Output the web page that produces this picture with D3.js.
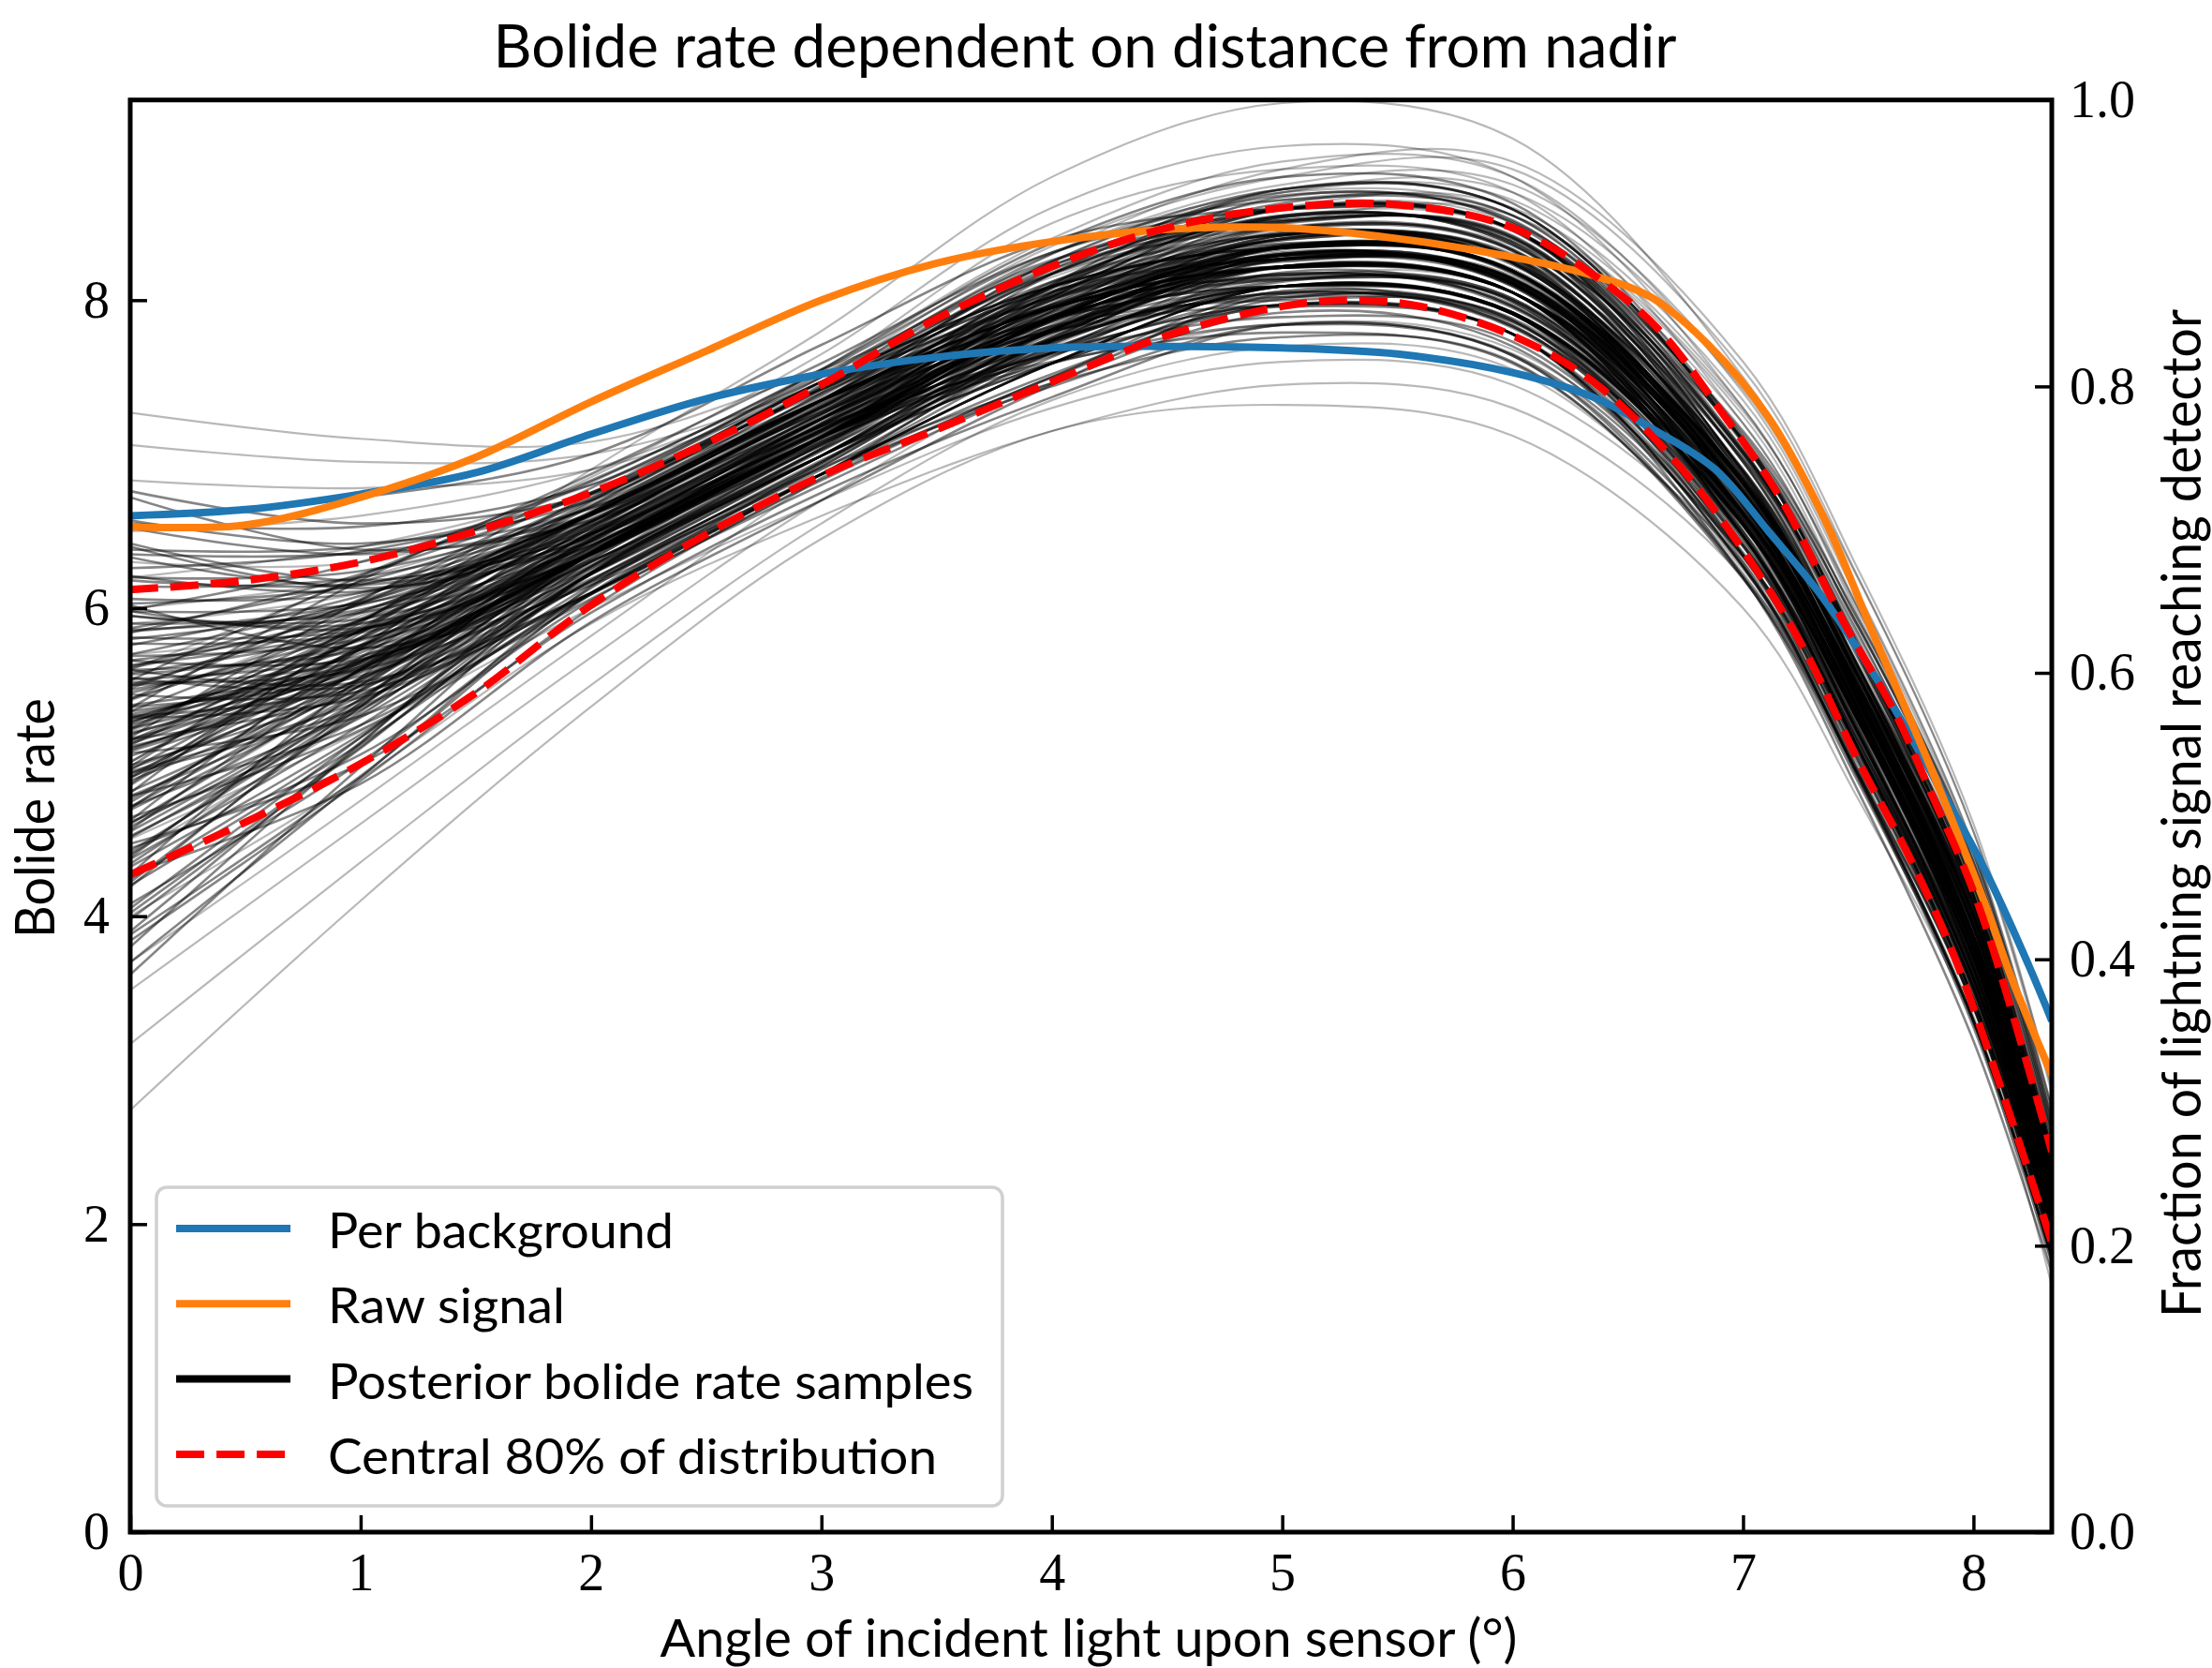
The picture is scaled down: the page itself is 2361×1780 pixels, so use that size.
<!DOCTYPE html>
<html>
<head>
<meta charset="utf-8">
<script src="https://cdn.jsdelivr.net/npm/d3@7"></script>
<style>
  body { margin: 0; background: #fff; }
  svg { display: block; }
</style>
</head>
<body>
<script>
// angles (deg) at which each posterior sample is given
const knotX = [0, 1, 2, 3, 4, 5, 6, 7, 7.5, 8, 8.34];

// posterior bolide rate samples, one row per sample (values at knotX)
const samples = [
  [5.12,5.66,6.45,7.15,7.9,8.3,8.1,6.7,5.39,3.82,2.15],
  [5.63,5.86,6.39,7.2,7.79,8.17,7.95,6.63,5.33,3.77,2.19],
  [4.9,5.74,6.52,7.31,7.97,8.25,8.14,6.58,5.26,3.68,2.04],
  [5.85,6.04,6.58,7.26,8.05,8.39,8.29,6.72,5.41,3.84,2.2],
  [4.55,5.38,6.27,7.08,7.78,8.31,8.09,6.78,5.47,3.91,2.3],
  [5.3,5.49,6.19,6.9,7.68,8.12,8.01,6.45,5.13,3.56,1.97],
  [6.21,6.11,6.46,7.14,7.98,8.43,8.23,6.9,5.61,4.04,2.37],
  [4.2,5.12,6.13,6.96,7.63,8.18,7.96,6.64,5.34,3.78,2.14],
  [5.48,6.03,6.71,7.38,8.2,8.5,8.42,6.85,5.55,3.97,2.26],
  [4.76,5.55,6.4,7.2,8.0,8.55,8.36,6.97,5.67,4.09,2.41],
  [6.57,6.42,6.7,7.44,8.06,8.26,8.15,6.59,5.27,3.69,2.08],
  [3.84,4.88,6.0,6.84,7.5,8.06,7.83,6.5,5.19,3.63,2.03],
  [5.26,5.8,6.57,7.27,7.83,8.0,7.88,6.43,5.09,3.51,1.93],
  [5.98,5.87,6.31,7.02,7.84,8.26,8.14,6.73,5.48,3.96,2.25],
  [4.4,5.41,6.44,7.19,7.93,8.44,8.24,6.77,5.43,3.83,2.18],
  [5.5,5.66,6.26,7.07,7.69,8.05,7.82,6.46,5.18,3.64,2.09],
  [5.16,6.05,6.78,7.5,8.26,8.51,8.41,6.8,5.43,3.79,2.14],
  [4.93,5.36,6.18,6.95,7.71,8.3,8.1,6.84,5.58,4.05,2.36],
  [5.87,6.17,6.66,7.43,8.22,8.68,8.5,7.0,5.69,4.1,2.42],
  [4.56,5.61,6.53,7.26,7.97,8.27,8.09,6.57,5.19,3.55,1.98],
  [5.1,5.54,6.3,7.03,7.9,8.4,8.28,6.79,5.49,3.92,2.27],
  [5.61,5.98,6.56,7.31,7.92,8.29,8.1,6.5,5.08,3.42,1.86],
  [4.78,5.43,6.32,7.06,7.72,8.13,8.0,6.62,5.35,3.81,2.16],
  [6.35,6.36,6.65,7.39,8.12,8.42,8.24,6.76,5.4,3.77,2.19],
  [4.05,5.16,6.27,7.08,7.64,8.02,7.87,6.4,5.09,3.54,1.94],
  [5.24,5.73,6.44,7.16,8.08,8.63,8.55,7.07,5.78,4.19,2.48],
  [5.52,5.6,6.17,6.92,7.76,8.29,8.13,6.69,5.37,3.79,2.16],
  [4.44,5.05,6.05,6.8,7.46,7.92,7.7,6.33,5.04,3.5,1.96],
  [5.22,5.92,6.67,7.42,8.01,8.27,8.11,6.6,5.27,3.67,2.07],
  [5.95,5.93,6.41,7.18,7.82,8.14,7.99,6.47,5.12,3.52,1.96],
  [4.95,5.75,6.52,7.31,8.08,8.55,8.37,6.86,5.55,3.96,2.26],
  [5.47,5.79,6.38,7.19,7.86,8.3,8.14,6.84,5.58,4.05,2.4],
  [3.7,4.9,6.14,6.95,7.76,8.26,8.14,6.7,5.4,3.83,2.19],
  [6.72,6.38,6.57,7.27,8.12,8.51,8.41,7.0,5.73,4.18,2.52],
  [5.33,5.62,6.27,7.03,7.68,8.05,7.83,6.53,5.29,3.78,2.15],
  [4.71,5.53,6.45,7.15,7.97,8.39,8.28,6.97,5.74,4.23,2.47],
  [5.99,6.3,6.83,7.55,8.37,8.8,8.63,7.11,5.74,4.09,2.37],
  [4.37,5.24,6.18,6.91,7.46,7.76,7.6,6.19,4.92,3.42,1.82],
  [5.66,5.92,6.53,7.32,8.0,8.43,8.24,6.77,5.43,3.82,2.2],
  [5.28,5.76,6.4,7.14,7.83,8.17,7.96,6.57,5.24,3.64,2.04],
  [4.22,5.36,6.47,7.19,7.86,8.3,8.11,6.63,5.29,3.68,2.08],
  [6.18,6.16,6.51,7.26,7.9,8.13,8.0,6.59,5.32,3.78,2.15],
  [5.06,5.3,6.06,6.83,7.5,8.01,7.87,6.3,4.9,3.28,1.75],
  [4.8,5.86,6.66,7.43,8.08,8.43,8.28,6.73,5.4,3.81,2.18],
  [5.6,5.73,6.3,7.07,7.93,8.54,8.36,6.9,5.56,3.93,2.3],
  [4.6,5.5,6.39,7.16,7.79,8.16,8.01,6.66,5.42,3.92,2.26],
  [5.8,6.02,6.54,7.3,7.96,8.29,8.12,6.7,5.39,3.81,2.18],
  [5.18,5.68,6.37,7.12,7.92,8.42,8.27,6.66,5.29,3.65,2.05],
  [4.98,5.47,6.25,7.04,8.05,8.67,8.51,7.13,5.88,4.32,2.6],
  [5.41,6.06,6.72,7.4,7.96,8.14,7.99,6.49,5.14,3.54,1.96],
  [4.52,5.31,6.33,7.09,7.89,8.4,8.27,6.69,5.31,3.67,2.07],
  [6.02,5.74,6.15,6.94,7.73,8.27,8.13,6.81,5.58,4.06,2.38],
  [5.14,5.81,6.56,7.28,7.94,8.27,8.12,6.74,5.47,3.93,2.27],
  [3.9,5.13,6.31,7.06,7.87,8.4,8.25,6.87,5.61,4.06,2.38],
  [6.55,6.53,6.8,7.52,8.23,8.52,8.4,6.89,5.56,3.95,2.29],
  [5.37,5.64,6.3,7.06,7.8,8.29,8.13,6.56,5.17,3.52,1.94],
  [4.9,5.6,6.43,7.18,7.65,7.89,7.73,6.35,5.07,3.54,1.96],
  [5.53,6.21,6.82,7.54,8.31,8.65,8.52,7.03,5.7,4.08,2.4],
  [4.28,4.86,5.91,6.7,7.45,8.04,7.86,6.47,5.19,3.65,2.05],
  [6.4,6.13,6.43,7.16,7.87,8.27,8.11,6.62,5.28,3.67,2.07],
  [5.25,5.85,6.54,7.3,8.11,8.54,8.38,6.83,5.44,3.79,2.16],
  [4.62,5.74,6.69,7.42,8.02,8.29,8.11,6.69,5.38,3.81,2.18],
  [5.58,5.85,6.41,7.16,7.75,8.04,7.84,6.36,5.01,3.41,1.85],
  [5.15,5.44,6.17,6.94,7.82,8.42,8.25,6.83,5.53,3.95,2.29],
  [4.7,5.68,6.56,7.28,7.89,8.16,7.97,6.62,5.34,3.79,2.16],
  [5.9,5.97,6.41,7.18,8.04,8.54,8.38,7.1,5.88,4.35,2.62],
  [4.32,5.18,6.15,6.92,7.75,8.29,8.11,6.76,5.48,3.93,2.27],
  [5.29,5.71,6.43,7.18,7.6,7.79,7.59,6.22,4.93,3.41,1.85],
  [5.54,5.69,6.28,7.04,7.89,8.42,8.25,6.89,5.63,4.08,2.4],
  [4.86,5.84,6.7,7.42,8.18,8.52,8.4,7.01,5.75,4.2,2.49],
  [6.06,6.1,6.56,7.3,7.8,8.02,7.86,6.54,5.3,3.79,2.18],
  [5.08,5.65,6.44,7.15,7.87,8.27,8.13,6.74,5.47,3.93,2.27],
  [5.45,5.85,6.48,7.23,7.95,8.34,8.19,6.75,5.44,3.87,2.23],
  [4.58,5.41,6.36,7.11,7.88,8.35,8.19,6.68,5.34,3.73,2.12],
  [5.81,5.86,6.35,7.12,7.89,8.33,8.2,6.82,5.56,4.01,2.34],
  [4.24,5.16,6.23,6.99,7.66,8.09,7.91,6.54,5.27,3.73,2.12],
  [6.03,6.15,6.6,7.36,8.02,8.34,8.19,6.68,5.34,3.74,2.13],
  [5.11,5.86,6.63,7.34,8.03,8.36,8.18,6.81,5.55,4.0,2.34],
  [4.38,5.47,6.48,7.23,7.88,8.21,8.05,6.55,5.21,3.6,2.01],
  [6.2,6.24,6.65,7.33,8.05,8.37,8.17,6.66,5.32,3.71,2.1],
  [4.94,5.4,6.22,6.99,7.66,8.09,7.92,6.55,5.27,3.73,2.12],
  [5.31,5.66,6.36,7.11,7.66,7.97,7.78,6.34,5.02,3.46,1.9],
  [4.02,5.1,6.22,6.99,7.8,8.34,8.19,6.82,5.56,4.01,2.34],
  [6.38,6.4,6.75,7.47,8.17,8.47,8.32,6.81,5.47,3.87,2.23],
  [5.27,5.65,6.34,7.12,8.02,8.59,8.46,7.02,5.72,4.14,2.45],
  [4.19,5.39,6.5,7.24,7.88,8.22,8.05,6.54,5.19,3.59,2.01],
  [5.98,6.03,6.47,7.22,7.88,8.21,8.05,6.68,5.41,3.87,2.23],
  [4.74,5.6,6.49,7.23,8.03,8.47,8.32,6.81,5.47,3.87,2.23],
  [5.44,5.46,6.09,6.87,7.59,8.09,7.92,6.61,5.37,3.87,2.23],
  [5.33,5.93,6.62,7.35,7.95,8.22,8.05,6.47,5.09,3.46,1.9],
  [4.71,5.34,6.22,6.99,7.59,7.96,7.78,6.41,5.13,3.6,2.01],
  [5.66,5.67,6.23,6.99,7.74,8.22,8.05,6.74,5.5,4.0,2.34],
  [5.5,5.97,6.61,7.35,7.95,8.21,8.05,6.61,5.3,3.73,2.12],
  [4.61,5.29,6.23,6.99,7.74,8.22,8.05,6.81,5.61,4.13,2.45],
  [5.7,6.05,6.61,7.35,8.09,8.47,8.33,6.82,5.48,3.87,2.23],
  [3.88,4.91,6.1,6.87,7.59,8.09,7.91,6.54,5.27,3.73,2.12],
  [6.52,6.35,6.61,7.35,8.17,8.59,8.46,7.02,5.72,4.14,2.45],
  [5.07,5.59,6.36,7.11,7.59,7.84,7.64,6.2,4.87,3.32,1.79],
  [4.97,5.91,6.74,7.47,8.09,8.34,8.19,6.75,5.44,3.87,2.23],
  [5.84,6.22,6.75,7.47,8.25,8.6,8.45,6.95,5.62,4.0,2.34],
  [5.36,5.56,6.22,6.99,7.8,8.34,8.19,6.82,5.56,4.01,2.34],
  [4.34,5.33,6.36,7.11,7.88,8.35,8.19,6.81,5.55,4.0,2.34],
  [5.77,5.84,6.35,7.11,7.73,8.09,7.92,6.55,5.27,3.73,2.12],
  [4.69,5.46,6.36,7.11,7.81,8.22,8.05,6.47,5.09,3.46,1.9],
  [6.76,6.55,6.74,7.47,8.09,8.34,8.19,6.75,5.44,3.87,2.23],
  [3.62,4.97,6.23,6.99,7.59,7.97,7.78,6.27,4.91,3.32,1.79],
  [5.41,5.92,6.61,7.35,8.17,8.59,8.46,6.88,5.51,3.87,2.23],
  [5.22,5.63,6.36,7.11,7.74,8.09,7.91,6.34,4.94,3.32,1.79],
  [4.64,5.21,6.09,6.87,7.44,7.84,7.65,6.34,5.09,3.6,2.01],
  [5.62,6.03,6.62,7.35,8.25,8.72,8.59,7.08,5.75,4.13,2.45],
  [5.04,5.58,6.35,7.11,7.8,8.21,8.05,6.68,5.41,3.87,2.23],
  [4.88,5.52,6.37,7.1,7.89,8.36,8.18,6.74,5.43,3.86,2.22],
  [6.42,6.18,6.48,7.23,7.95,8.34,8.19,6.82,5.56,4.01,2.34],
  [3.98,5.09,6.23,6.99,7.81,8.35,8.19,6.68,5.34,3.73,2.12],
  [5.35,6.18,6.87,7.59,8.31,8.59,8.46,7.15,5.93,4.41,2.67],
  [5.55,5.5,6.1,6.87,7.59,8.09,7.91,6.54,5.27,3.73,2.12],
  [5.0,5.81,6.61,7.35,7.88,8.09,7.92,6.55,5.27,3.73,2.12],
  [5.69,5.8,6.36,7.11,7.88,8.35,8.19,6.61,5.23,3.59,2.01],
  [4.51,5.37,6.35,7.11,7.88,8.34,8.19,6.75,5.44,3.87,2.23],
  [5.15,5.62,6.36,7.11,7.74,8.09,7.91,6.61,5.37,3.87,2.23],
  [5.76,6.08,6.61,7.35,7.8,7.96,7.78,6.28,4.92,3.33,1.79],
  [4.78,5.24,6.1,6.87,7.74,8.35,8.19,6.81,5.55,4.0,2.34],
  [6.14,6.2,6.61,7.35,7.95,8.21,8.05,6.75,5.51,4.01,2.34],
  [4.27,5.55,6.62,7.35,7.95,8.22,8.05,6.47,5.09,3.46,1.9],
  [5.19,5.61,6.35,7.11,7.88,8.34,8.19,6.68,5.34,3.73,2.12],
  [6.33,6.15,6.49,7.23,7.81,8.09,7.91,6.41,5.06,3.46,1.9],
  [4.08,5.0,6.09,6.87,7.59,8.09,7.92,6.55,5.27,3.73,2.12],
  [4.92,5.65,6.49,7.23,7.88,8.22,8.05,6.74,5.5,4.0,2.34],
  [5.86,5.99,6.48,7.23,8.17,8.72,8.59,7.09,5.76,4.14,2.45],
  [4.47,4.99,5.97,6.75,7.37,7.84,7.64,6.27,4.99,3.46,1.9],
  [6.6,6.72,7.0,7.71,8.39,8.59,8.46,6.95,5.62,4.01,2.34],
  [3.8,5.12,6.36,7.11,7.81,8.22,8.05,6.68,5.41,3.87,2.23],
  [5.57,5.76,6.35,7.11,7.73,8.09,7.92,6.61,5.37,3.87,2.23],
  [5.6,5.52,6.1,6.87,7.66,8.22,8.05,6.61,5.3,3.73,2.12],
  [5.13,5.73,6.48,7.23,8.09,8.59,8.46,7.09,5.83,4.27,2.56],
  [4.85,5.76,6.62,7.35,7.88,8.09,7.91,6.47,5.16,3.59,2.01],
  [5.95,5.9,6.35,7.11,7.95,8.47,8.33,6.82,5.48,3.87,2.23],
  [4.42,5.36,6.36,7.11,7.66,7.97,7.78,6.2,4.81,3.19,1.68],
  [6.26,6.37,6.74,7.47,8.09,8.34,8.19,6.68,5.34,3.73,2.12],
  [4.96,5.54,6.36,7.11,8.1,8.72,8.59,7.08,5.75,4.13,2.45],
  [5.21,5.88,6.61,7.35,7.95,8.21,8.05,6.55,5.21,3.6,2.01],
  [5.29,5.42,6.1,6.87,7.52,7.97,7.78,6.27,4.91,3.32,1.79],
  [4.81,5.5,6.35,7.11,8.02,8.59,8.46,6.88,5.51,3.87,2.23],
  [5.09,5.6,6.36,7.11,7.81,8.22,8.05,6.54,5.19,3.59,2.01]
];

// the samples far from the bulk
const tailSamples = [
  [2.74,4.1,5.36,6.45,7.15,7.32,7.12,6.0,4.76,3.3,1.6],
  [3.17,4.35,5.5,6.55,7.35,7.7,7.55,6.25,4.95,3.42,1.75],
  [3.52,4.6,5.68,6.7,7.5,7.85,7.68,6.4,5.1,3.55,1.85],
  [3.7,4.75,5.82,6.85,7.7,8.15,8.05,6.65,5.35,3.78,2.15],
  [7.27,7.1,7.08,7.55,8.15,8.55,8.45,7.0,5.69,4.1,2.45],
  [7.06,6.95,7.0,7.45,8.05,8.45,8.35,6.95,5.62,4.0,2.35],
  [6.83,6.78,6.9,7.42,8.0,8.4,8.3,6.85,5.54,3.95,2.3],
  [5.0,5.9,6.9,7.8,8.8,9.28,9.05,7.5,6.19,4.55,2.9],
  [5.6,6.2,6.85,7.65,8.6,9.0,8.8,7.3,6.0,4.4,2.75],
  [6.2,6.4,6.8,7.55,8.5,8.85,8.7,7.2,5.92,4.35,2.65],
  [4.0,4.9,5.9,6.6,7.15,7.45,7.3,6.2,4.89,3.35,1.7],
  [4.5,5.2,6.0,6.7,7.3,7.6,7.45,6.3,4.96,3.4,1.75],
  [6.5,6.6,6.9,7.5,8.3,8.7,8.55,7.1,5.8,4.2,2.55],
  [5.4,5.95,6.6,7.45,8.3,8.75,8.75,7.45,6.1,4.45,2.75],
  [4.9,5.6,6.5,7.35,8.25,8.7,8.65,7.35,6.0,4.38,2.7],
  [6.0,6.2,6.7,7.5,8.35,8.8,8.85,7.55,6.2,4.55,2.85],
  [5.7,5.9,6.45,7.25,8.1,8.6,8.6,7.3,5.95,4.32,2.65],
  [4.6,5.5,6.55,7.4,8.2,8.65,8.55,7.25,5.9,4.28,2.6],
  [5.2,5.8,6.6,7.4,8.3,8.85,8.9,7.6,6.25,4.6,2.88],
  [6.3,6.3,6.75,7.55,8.4,8.9,8.8,7.4,6.05,4.42,2.72],
  [5.5,5.75,6.4,7.2,8.0,8.5,8.55,7.28,5.98,4.36,2.68],
  [4.4,5.3,6.35,7.2,8.1,8.6,8.5,7.2,5.85,4.25,2.58],
  [5.9,6.1,6.6,7.3,8.2,8.7,8.7,7.42,6.08,4.45,2.76]
];

// per background
const bgX = [0,0.5,1,1.5,2,2.5,3,3.5,4,4.5,5,5.5,6,6.35,6.6,6.88,7.11,7.35,7.58,7.81,8.05,8.24,8.34];
const bgY = [6.6,6.64,6.74,6.88,7.13,7.36,7.52,7.63,7.69,7.7,7.69,7.65,7.53,7.37,7.17,6.9,6.5,6.06,5.54,4.95,4.3,3.68,3.32];

// raw signal
const rawX = [0,0.5,1,1.5,2,2.5,3,3.5,4,4.5,5,5.5,6,6.35,6.6,6.85,7.11,7.35,7.58,7.81,8.05,8.17,8.34];
const rawY = [6.53,6.54,6.72,6.98,7.34,7.67,8.0,8.24,8.38,8.46,8.47,8.4,8.28,8.16,8.02,7.71,7.24,6.59,5.78,4.98,4.08,3.58,2.97];

// central 80% of the distribution (upper / lower edge)
const hiX = [0,0.5,1,1.5,2,2.5,3,3.5,4,4.5,5,5.5,6,6.41,6.64,6.88,7.16,7.44,7.66,7.81,8.02,8.34];
const hiY = [6.12,6.18,6.3,6.5,6.75,7.07,7.45,7.88,8.22,8.47,8.6,8.62,8.47,8.1,7.8,7.33,6.72,5.9,5.32,4.82,4.08,2.47];
const loX = [0,0.5,1,1.5,2,2.5,3,3.5,4,4.5,5,5.3,5.6,6,6.35,6.72,7.03,7.27,7.5,7.74,7.94,8.34];
const loY = [4.27,4.61,4.99,5.45,6.02,6.48,6.86,7.16,7.47,7.77,7.96,8.0,7.96,7.77,7.47,6.93,6.31,5.72,5.01,4.33,3.65,1.88];

const leftTicks = [0, 2, 4, 6, 8];
const bottomTicks = [0, 1, 2, 3, 4, 5, 6, 7, 8];
const rightTicks = [0, 0.2, 0.4, 0.6, 0.8, 1.0];

const legendItems = [
  { label: "Per background", color: "#1f77b4", dash: null, len: 369 },
  { label: "Raw signal", color: "#ff7f0e", dash: null, len: 253 },
  { label: "Posterior bolide rate samples", color: "#000", dash: null, len: 689 },
  { label: "Central 80% of distribution", color: "#ff0000", dash: "30,13", len: 650 }
];

const W = 2361, H = 1780;
const L = 139, R = 2190, T = 106.7, B = 1635;
const sans = "Lato, 'Open Sans', 'DejaVu Sans', sans-serif";
const serif = "'Liberation Serif', 'DejaVu Serif', serif";

const x = d3.scaleLinear().domain([0, 8.34]).range([L, R]);
const y = d3.scaleLinear().domain([0, 9.3]).range([B, T]);
const yR = d3.scaleLinear().domain([0, 1]).range([B, T]);

const svg = d3.select("body").append("svg")
  .attr("width", W)
  .attr("height", H);

svg.append("defs").append("clipPath").attr("id", "plot")
  .append("rect")
  .attr("x", L).attr("y", T)
  .attr("width", R - L).attr("height", B - T);

const plot = svg.append("g").attr("clip-path", "url(#plot)");

// samples
const sampleLine = d3.line()
  .x((d, i) => x(knotX[i]))
  .y(d => y(d))
  .curve(d3.curveCatmullRom.alpha(0.5));

plot.append("g")
  .attr("fill", "none")
  .attr("stroke", "#000")
  .attr("stroke-opacity", 0.28)
  .attr("stroke-width", 2.2)
  .selectAll("path")
  .data(tailSamples)
  .join("path")
  .attr("d", sampleLine);

plot.append("g")
  .attr("fill", "none")
  .attr("stroke", "#000")
  .attr("stroke-opacity", 0.48)
  .attr("stroke-width", 2.6)
  .selectAll("path")
  .data(samples)
  .join("path")
  .attr("d", sampleLine);

// summary lines
const curveLine = d3.line()
  .x(d => x(d[0]))
  .y(d => y(d[1]))
  .curve(d3.curveCatmullRom.alpha(0.5));

function drawSeries(xs, ys, color, dash) {
  plot.append("path")
    .datum(d3.zip(xs, ys))
    .attr("fill", "none")
    .attr("stroke", color)
    .attr("stroke-width", 8)
    .attr("stroke-dasharray", dash)
    .attr("d", curveLine);
}
drawSeries(bgX, bgY, "#1f77b4", null);
drawSeries(rawX, rawY, "#ff7f0e", null);
drawSeries(hiX, hiY, "#ff0000", "30,13");
drawSeries(loX, loY, "#ff0000", "30,13");

// axes, ticks pointing inward
function styleAxis(g) {
  g.select(".domain").remove();
  g.selectAll(".tick line").attr("stroke", "#000").attr("stroke-width", 3.5);
  g.selectAll(".tick text")
    .attr("font-family", serif)
    .attr("font-size", 56)
    .attr("fill", "#000");
}

svg.append("g")
  .attr("transform", `translate(${L},0)`)
  .call(d3.axisLeft(y).tickValues(leftTicks).tickSizeInner(-18).tickSizeOuter(0).tickPadding(22))
  .call(styleAxis);

svg.append("g")
  .attr("transform", `translate(0,${B})`)
  .call(d3.axisBottom(x).tickValues(bottomTicks).tickSizeInner(-18).tickSizeOuter(0).tickPadding(22))
  .call(styleAxis);

svg.append("g")
  .attr("transform", `translate(${R},0)`)
  .call(d3.axisRight(yR).tickValues(rightTicks).tickFormat(d3.format(".1f"))
    .tickSizeInner(-18).tickSizeOuter(0).tickPadding(19))
  .call(styleAxis);

// spines
svg.append("rect")
  .attr("x", L).attr("y", T)
  .attr("width", R - L).attr("height", B - T)
  .attr("fill", "none")
  .attr("stroke", "#000")
  .attr("stroke-width", 5);

// legend
const legend = svg.append("g");
legend.append("rect")
  .attr("x", 167).attr("y", 1267)
  .attr("width", 903).attr("height", 340)
  .attr("rx", 11)
  .attr("fill", "#fff").attr("fill-opacity", 0.8)
  .attr("stroke", "#d0d0d0").attr("stroke-width", 3.5);

const rows = legend.selectAll("g.row")
  .data(legendItems)
  .join("g")
  .attr("class", "row")
  .attr("transform", (d, i) => `translate(0,${1311 + i * 80.3})`);

rows.append("line")
  .attr("x1", 188).attr("x2", 310)
  .attr("stroke", d => d.color)
  .attr("stroke-width", 8)
  .attr("stroke-dasharray", d => d.dash);

rows.append("text")
  .attr("x", 350).attr("y", 21)
  .attr("font-family", sans)
  .attr("font-size", 53)
  .attr("textLength", d => d.len)
  .attr("lengthAdjust", "spacingAndGlyphs")
  .text(d => d.label);

// titles
svg.append("text")
  .attr("x", 1158).attr("y", 72)
  .attr("text-anchor", "middle")
  .attr("font-family", sans).attr("font-size", 64)
  .attr("textLength", 1263).attr("lengthAdjust", "spacingAndGlyphs")
  .text("Bolide rate dependent on distance from nadir");

svg.append("text")
  .attr("x", 1162).attr("y", 1768)
  .attr("text-anchor", "middle")
  .attr("font-family", sans).attr("font-size", 56)
  .attr("textLength", 915).attr("lengthAdjust", "spacingAndGlyphs")
  .text("Angle of incident light upon sensor (°)");

svg.append("text")
  .attr("transform", "translate(58,873) rotate(-90)")
  .attr("text-anchor", "middle")
  .attr("font-family", sans).attr("font-size", 58)
  .attr("textLength", 256).attr("lengthAdjust", "spacingAndGlyphs")
  .text("Bolide rate");

svg.append("text")
  .attr("transform", "translate(2349,868) rotate(-90)")
  .attr("text-anchor", "middle")
  .attr("font-family", sans).attr("font-size", 58)
  .attr("textLength", 1076).attr("lengthAdjust", "spacingAndGlyphs")
  .text("Fraction of lightning signal reaching detector");
</script>
</body>
</html>
